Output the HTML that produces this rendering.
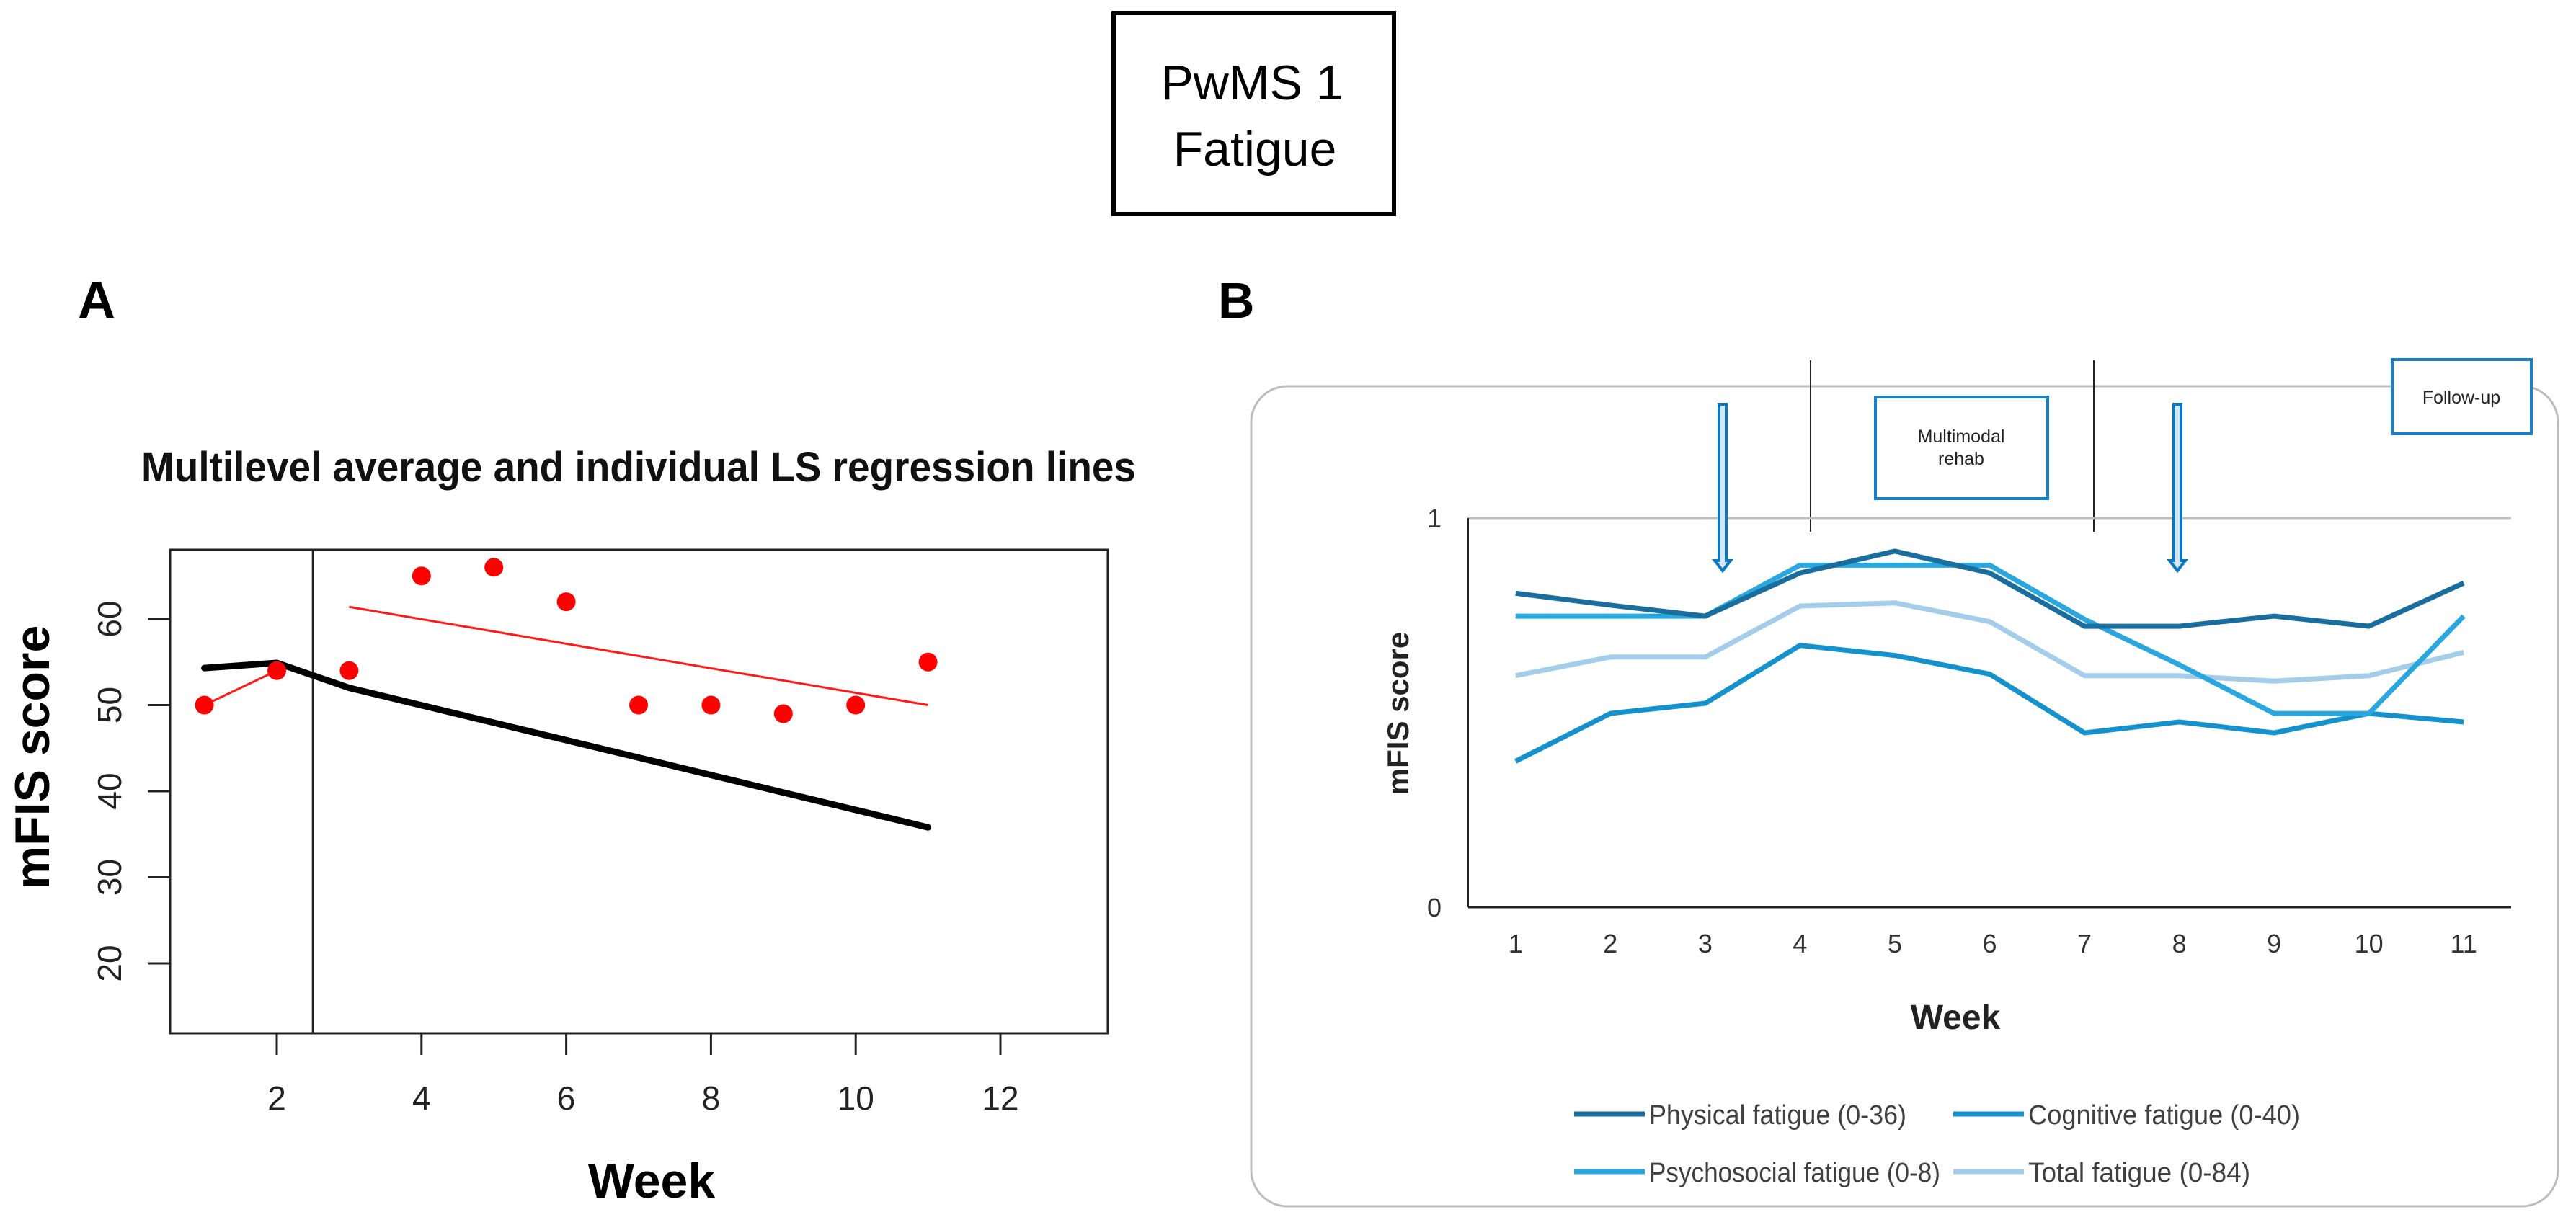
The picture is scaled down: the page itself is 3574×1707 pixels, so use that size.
<!DOCTYPE html>
<html><head><meta charset="utf-8"><style>
html,body{margin:0;padding:0;background:#fff;}
svg{display:block;font-family:"Liberation Sans",sans-serif;}
</style></head><body>
<svg id="fig" width="3574" height="1707" viewBox="0 0 3574 1707" xmlns="http://www.w3.org/2000/svg">
<rect width="3574" height="1707" fill="#fff"/>
<g>
<rect x="1545" y="18" width="389" height="279" fill="none" stroke="#000" stroke-width="6"/>
<text x="1737" y="138" font-size="68" text-anchor="middle">PwMS 1</text>
<text x="1741" y="230" font-size="68" text-anchor="middle">Fatigue</text>
</g>
<text x="108" y="441" font-size="72" font-weight="bold">A</text>
<text x="1690" y="441" font-size="70" font-weight="bold">B</text>
<g id="panelA"></g>
<g id="panelB"></g>
</svg>
<script>
// ---------- Panel A data ----------
const weeksA = [1,2,3,4,5,6,7,8,9,10,11];
const mfisA = [50,54,54,65,66,62,50,50,49,50,55];
const avgWeeks = [1,2,3,11];
const avgValues = [54.3,54.9,52.0,35.8];
const preWeeks = [1,2];
const preValues = [50,54];
const regWeeks = [3,11];
const regValues = [61.4,50.0];
const xTicksA = [2,4,6,8,10,12];
const yTicksA = [20,30,40,50,60];
const phaseBreakA = 2.5;

// ---------- Panel B data ----------
const weeksB = ['1','2','3','4','5','6','7','8','9','10','11'];
const physical = [0.807,0.776,0.748,0.859,0.915,0.859,0.722,0.722,0.748,0.722,0.833];
const cognitive = [0.375,0.498,0.524,0.673,0.647,0.599,0.448,0.476,0.448,0.498,0.476];
const psychosocial = [0.748,0.748,0.748,0.879,0.879,0.879,0.740,0.623,0.498,0.498,0.748];
const totalF = [0.595,0.643,0.643,0.774,0.782,0.734,0.595,0.595,0.581,0.595,0.655];
const seriesNames = ['Physical fatigue (0-36)','Cognitive fatigue (0-40)','Psychosocial fatigue (0-8)','Total fatigue (0-84)'];
const yTicksB = [0,1];

const NS='http://www.w3.org/2000/svg';
function mk(parent,tag,attrs,text){const e=document.createElementNS(NS,tag);for(const k in attrs)e.setAttribute(k,attrs[k]);if(text!==undefined)e.textContent=text;parent.appendChild(e);return e;}

// ---------- Panel A ----------
(function(){
const g=document.getElementById('panelA');
const L=236,R=1537,T=763,B=1434;
const xA=w=>384+(w-2)*100.4;
const yA=v=>859+(60-v)*11.95;
let t=mk(g,'text',{x:886,y:668,'font-size':58,'font-weight':'bold','text-anchor':'middle',textLength:1380,lengthAdjust:'spacingAndGlyphs',fill:'#111'},'Multilevel average and individual LS regression lines');


let r=mk(g,'rect',{x:L,y:T,width:R-L,height:B-T,fill:'none',stroke:'#222','stroke-width':3});


let ax=mk(g,'line',{x1:xA(xTicksA[0]),x2:xA(xTicksA[xTicksA.length-1]),y1:B,y2:B,stroke:'#222','stroke-width':3});


xTicksA.forEach(v=>{
 const l=mk(g,'line',{x1:xA(v),x2:xA(v),y1:B,y2:B+30,stroke:'#222','stroke-width':3});
 
 
 const tx=mk(g,'text',{x:xA(v),y:1540,'font-size':46,'text-anchor':'middle',fill:'#222'},String(v));
 
 
});
yTicksA.forEach(v=>{
 const l=mk(g,'line',{x1:L-31,x2:L,y1:yA(v),y2:yA(v),stroke:'#222','stroke-width':3});
 
 
 const tx=mk(g,'text',{x:168,y:yA(v),'font-size':46,'text-anchor':'middle',fill:'#222',transform:`rotate(-90 168 ${yA(v)})`},String(v));
 
 
});
let vl=mk(g,'line',{x1:xA(phaseBreakA),x2:xA(phaseBreakA),y1:T,y2:B,stroke:'#222','stroke-width':3});


let pl=mk(g,'polyline',{points:avgWeeks.map((w,i)=>xA(w)+','+yA(avgValues[i])).join(' '),fill:'none',stroke:'#000','stroke-width':9,'stroke-linejoin':'round','stroke-linecap':'round'});


let p2=mk(g,'polyline',{points:preWeeks.map((w,i)=>xA(w)+','+yA(preValues[i])).join(' '),fill:'none',stroke:'#ff1a1a','stroke-width':3});


let p3=mk(g,'polyline',{points:regWeeks.map((w,i)=>xA(w)+','+yA(regValues[i])).join(' '),fill:'none',stroke:'#ff1a1a','stroke-width':3});


weeksA.forEach((w,i)=>{
 const c=mk(g,'circle',{cx:xA(w),cy:yA(mfisA[i]),r:13,fill:'#ff0000'});
 
 
});
let xt=mk(g,'text',{x:904,y:1662,'font-size':68,'font-weight':'bold','text-anchor':'middle'},'Week');


let yt=mk(g,'text',{x:68,y:1051,'font-size':68,'font-weight':'bold','text-anchor':'middle',transform:'rotate(-90 68 1051)'},'mFIS  score');


})();

// ---------- Panel B ----------
(function(){
const g=document.getElementById('panelB');
const L=2037,R=3484,T=719,B=1259;
const bw=(R-L)/weeksB.length;
const xB=i=>L+bw*(i+0.5);
const yB=v=>B-(B-T)*v;
let box=mk(g,'rect',{x:1736,y:536,width:1813,height:1138,rx:50,ry:50,fill:'#fff',stroke:'#bdbdbd','stroke-width':3});


// phase lines
[2512,2905].forEach(x=>{
 const l=mk(g,'line',{x1:x,x2:x,y1:500,y2:738,stroke:'#222','stroke-width':2});
 
 
});
let mb=mk(g,'rect',{x:2602,y:551,width:239,height:141,fill:'#fff',stroke:'#1a7fc4','stroke-width':4});


let m1=mk(g,'text',{x:2721,y:614,'font-size':25,'text-anchor':'middle',fill:'#222'},'Multimodal');


let m2=mk(g,'text',{x:2721,y:645,'font-size':25,'text-anchor':'middle',fill:'#222'},'rehab');


let fb=mk(g,'rect',{x:3319,y:499,width:193,height:103,fill:'#fff',stroke:'#1a7fc4','stroke-width':4});


let ft=mk(g,'text',{x:3415,y:560,'font-size':25,'text-anchor':'middle',fill:'#222'},'Follow-up');


// gridline / axes
let gl=mk(g,'line',{x1:L,x2:R,y1:T,y2:T,stroke:'#bfbfbf','stroke-width':3});


let ya=mk(g,'line',{x1:L,x2:L,y1:T,y2:B,stroke:'#222','stroke-width':2});


let xa=mk(g,'line',{x1:L,x2:R,y1:B,y2:B,stroke:'#222','stroke-width':3});


yTicksB.forEach(v=>{
 const tx=mk(g,'text',{x:1990,y:yB(v)+13,'font-size':36,'text-anchor':'middle',fill:'#333'},String(v));
 
 
});
weeksB.forEach((w,i)=>{
 const tx=mk(g,'text',{x:xB(i),y:1322,'font-size':36,'text-anchor':'middle',fill:'#333'},w);
 
 
});
// arrows
[2390,3021].forEach(x=>{
 const d=`M${x-5},561 L${x+5},561 L${x+5},778 L${x+11},778 L${x},792 L${x-11},778 L${x-5},778 Z`;
 const a=mk(g,'path',{d:d,fill:'#d6e6f4',stroke:'#0a78c0','stroke-width':4,'stroke-linejoin':'miter'});
 
 
});
const series=[physical,cognitive,psychosocial,totalF];
const colors=['#1a6e9e','#1592cc','#2aa7de','#a4cdea'];
const drawOrder=[3,1,2,0];
drawOrder.forEach(si=>{
 const p=mk(g,'polyline',{points:series[si].map((v,i)=>xB(i)+','+yB(v)).join(' '),fill:'none',stroke:colors[si],'stroke-width':7,'stroke-linejoin':'round'});
 
 
});
let xt=mk(g,'text',{x:2713,y:1428,'font-size':48,'font-weight':'bold','text-anchor':'middle',fill:'#222'},'Week');


let yt=mk(g,'text',{x:1954,y:990,'font-size':42,'font-weight':'bold','text-anchor':'middle',fill:'#222',transform:'rotate(-90 1954 990)'},'mFIS score');


// legend
const lx=[2184,2710],ly=[1546,1626];
seriesNames.forEach((n,i)=>{
 const x=lx[i%2],y=ly[Math.floor(i/2)];
 const l=mk(g,'line',{x1:x,x2:x+98,y1:y,y2:y,stroke:colors[i],'stroke-width':7});
 
 
 const w=[357,377,404,308][i];
 const tx=mk(g,'text',{x:x+104,y:y+14,'font-size':38,fill:'#404040',textLength:w,lengthAdjust:'spacingAndGlyphs'},n);
 
 
});
})();
</script>
</body></html>
